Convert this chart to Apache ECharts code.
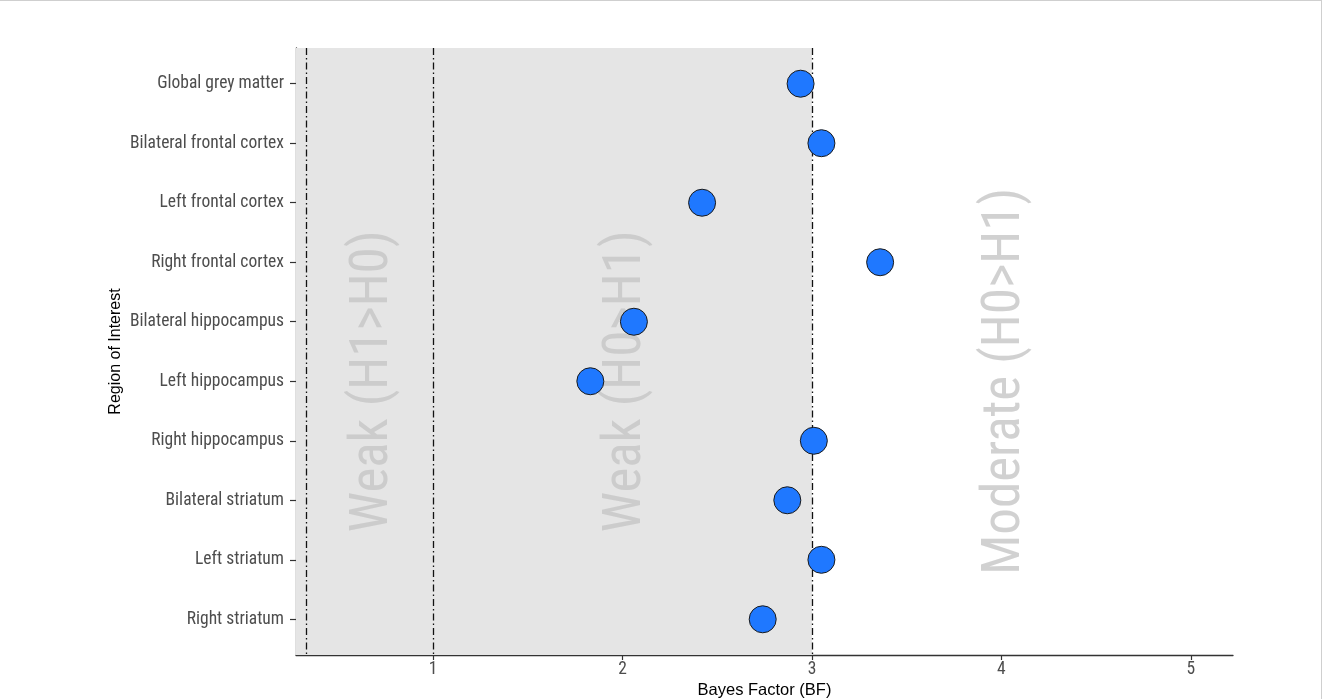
<!DOCTYPE html>
<html>
<head>
<meta charset="utf-8">
<script src="https://cdn.jsdelivr.net/npm/echarts@6.0.0/dist/echarts.min.js"></script>
<style>
  html, body { margin: 0; padding: 0; background: #fff; }
  #chart { width: 1322px; height: 699px; box-sizing: border-box; border-top: 1px solid #cfcfcf; border-right: 1px solid #cfcfcf; }
</style>
</head>
<body>
<div id="chart"></div>
<script>
// regions, top to bottom
const regions = [
  'Global grey matter', 'Bilateral frontal cortex', 'Left frontal cortex', 'Right frontal cortex',
  'Bilateral hippocampus', 'Left hippocampus', 'Right hippocampus',
  'Bilateral striatum', 'Left striatum', 'Right striatum'
]
// Bayes factor per region
const bayesFactor = [2.94, 3.05, 2.42, 3.36, 2.06, 1.83, 3.01, 2.87, 3.05, 2.74]
const xTicks = [1, 2, 3, 4, 5]
const thresholds = [1 / 3, 1, 3]
const zoneLabels = ['Weak (H1>H0)', 'Weak (H0>H1)', 'Moderate (H0>H1)']
const zoneLabelX = [2 / 3, 2, 4]
const zoneLabelRow = 6
const xMin = 0.276
const xMax = 5.223

const narrow = "'Roboto Condensed', 'Liberation Sans Narrow', Roboto, sans-serif"
const rowTicks = regions.map((r, i) => i + 1)

let myChart = echarts.init(document.getElementById('chart'))

let option = {
  animation: false,
  grid: { left: 296, right: 88, top: 47, bottom: 44, outerBoundsMode: 'none', containLabel: false },
  xAxis: {
    type: 'value',
    min: xMin,
    max: xMax,
    name: 'Bayes Factor (BF)',
    nameLocation: 'middle',
    nameGap: 27,
    nameMoveOverlap: false,
    nameTextStyle: { fontFamily: "'Liberation Sans', Arial, sans-serif", fontSize: 16.5, color: '#000' },
    splitLine: { show: false },
    axisLine: { show: true, onZero: false, lineStyle: { color: '#333', width: 1.3 } },
    axisTick: { show: true, length: 5, customValues: xTicks, lineStyle: { color: '#333', width: 1.2 } },
    axisLabel: { customValues: xTicks, color: '#4d4d4d', fontSize: 17.5, fontFamily: narrow, margin: 6 }
  },
  yAxis: {
    type: 'value',
    inverse: true,
    min: 0.4,
    max: 10.6,
    name: 'Region of Interest',
    nameLocation: 'middle',
    nameRotate: 90,
    nameGap: 172,
    nameMoveOverlap: false,
    nameTextStyle: { fontFamily: "'Liberation Sans', Arial, sans-serif", fontSize: 16, color: '#000' },
    splitLine: { show: false },
    axisLine: { show: true, onZero: false, lineStyle: { color: '#333', width: 1.3 } },
    axisTick: { show: true, length: 6, customValues: rowTicks, lineStyle: { color: '#333', width: 1.2 } },
    axisLabel: {
      customValues: rowTicks,
      formatter: v => regions[Math.round(v) - 1] || '',
      color: '#4d4d4d', fontSize: 17.5, fontFamily: narrow, margin: 12
    }
  },
  series: [
    {
      // shaded zone + threshold lines
      type: 'scatter',
      data: [],
      silent: true,
      z: 1,
      markArea: {
        silent: true,
        itemStyle: { color: '#e5e5e5' },
        data: [[{ xAxis: xMin }, { xAxis: thresholds[2] }]]
      },
      markLine: {
        silent: true,
        symbol: 'none',
        label: { show: false },
        lineStyle: { color: '#111', width: 1.3, type: [7, 3, 1.5, 3] },
        data: thresholds.map(t => ({ xAxis: t }))
      }
    },
    {
      // zone labels
      type: 'scatter',
      silent: true,
      z: 2,
      symbolSize: 0,
      data: zoneLabelX.map((x, i) => ({ value: [x, zoneLabelRow], name: zoneLabels[i] })),
      label: {
        show: true,
        position: 'inside',
        rotate: 90,
        offset: [0, 4],
        formatter: p => p.name,
        color: '#c6c6c6',
        fontSize: 53,
        fontFamily: narrow
      }
    },
    {
      name: 'BF',
      type: 'scatter',
      z: 5,
      symbolSize: 27,
      itemStyle: { color: '#1f78ff', borderColor: '#1a1a1a', borderWidth: 1, opacity: 1 },
      data: bayesFactor.map((v, i) => [v, i + 1])
    }
  ]
}
myChart.setOption(option)
window.addEventListener('resize', function () {
  myChart.resize()
})
</script>
</body>
</html>
